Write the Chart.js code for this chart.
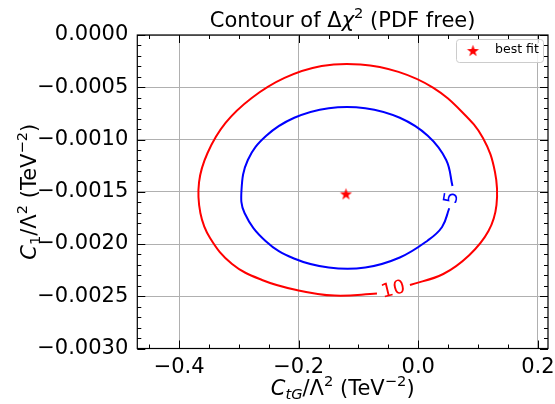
<!DOCTYPE html>
<html>
<head>
<meta charset="utf-8">
<script src="https://cdn.jsdelivr.net/npm/chart.js@4/dist/chart.umd.min.js"></script>
<style>
  html, body { margin: 0; padding: 0; background: #ffffff; }
  canvas { display: block; }
</style>
</head>
<body>
<canvas id="chart" width="555" height="404"></canvas>
<script>
// ---- data -------------------------------------------------------------
const xTicks = [-0.4, -0.2, 0.0, 0.2];
const yTicks = [0.0000, -0.0005, -0.0010, -0.0015, -0.0020, -0.0025, -0.0030];

const contourLevels = [5, 10];

// best-fit point (C_tG, C_1)
const bestFitX = [-0.121];
const bestFitY = [-0.00152];

// Δχ² = 5 contour, open where its label sits
const chi5X = [0.0572, 0.0467, 0.0159, -0.0309, -0.0886, -0.1498, -0.2074, -0.2543,
               -0.2851, -0.2957, -0.2906, -0.2555, -0.2079, -0.1498, -0.0886, -0.0309,
               0.0159, 0.0398, 0.0518];
const chi5Y = [-0.001446, -0.001196, -0.000964, -0.000792, -0.000700, -0.000700, -0.000792, -0.000964,
               -0.001196, -0.001483, -0.001703, -0.001971, -0.002139, -0.002225, -0.002225, -0.002129,
               -0.001966, -0.001837, -0.001658];

// Δχ² = 10 contour, open where its label sits
const chi10X = [-0.0139, 0.0418, 0.0856, 0.1174, 0.1308, 0.1283, 0.1082, 0.0724,
                0.0246, -0.0331, -0.0967, -0.1617, -0.2237, -0.2786, -0.3224, -0.3525,
                -0.3667, -0.3645, -0.3483, -0.3115, -0.2614, -0.2037, -0.1401, -0.0691];
const chi10Y = [-0.002392, -0.002287, -0.002105, -0.001876, -0.001627, -0.001311, -0.000986, -0.000732,
                -0.000504, -0.000353, -0.000282, -0.000297, -0.000411, -0.000603, -0.000842, -0.001129,
                -0.001407, -0.001703, -0.001943, -0.002191, -0.002344, -0.002440, -0.002494, -0.002474];

// where the level numbers sit on each contour (data coordinates)
const labelX = [0.0547, -0.0423];
const labelY = [-0.001555, -0.002431];

// ---- helpers ----------------------------------------------------------
const FONT = '"DejaVu Sans", sans-serif';
const zip = (xs, ys) => xs.map((x, i) => ({ x: x, y: ys[i] }));
const signed = (v, d) => (v < -1e-12 ? '\u2212' : '') + Math.abs(v).toFixed(d);

function makeStar(r, color) {
  const c = document.createElement('canvas');
  const size = Math.ceil(r * 2) + 2;
  c.width = size; c.height = size;
  const g = c.getContext('2d');
  g.fillStyle = color;
  g.beginPath();
  for (let k = 0; k < 10; k++) {
    const rad = k % 2 ? r * 0.4 : r;
    const a = -Math.PI / 2 + k * Math.PI / 5;
    g.lineTo(size / 2 + rad * Math.cos(a), size / 2 + 0.6 + rad * Math.sin(a));
  }
  g.closePath();
  g.fill();
  return c;
}
const starMarker = makeStar(6.3, '#ff0000');

// text made of runs: {t, s (px), i (italic), dy}
function drawRuns(ctx, runs, x, y) {
  let w = 0;
  const widths = runs.map(r => {
    ctx.font = (r.i ? 'italic ' : '') + r.s + 'px ' + FONT;
    const m = ctx.measureText(r.t).width;
    w += m;
    return m;
  });
  let cx = x - w / 2;
  runs.forEach((r, k) => {
    ctx.font = (r.i ? 'italic ' : '') + r.s + 'px ' + FONT;
    ctx.fillText(r.t, cx, y + (r.dy || 0));
    cx += widths[k];
  });
}

const FS = 21, SS = 14.7;
const titleRuns = [
  { t: 'Contour of \u0394', s: FS }, { t: '\u03c7', s: FS, i: true },
  { t: '2', s: SS, dy: -9 }, { t: ' (PDF free)', s: FS }
];
const xLabelRuns = [
  { t: 'C', s: FS, i: true }, { t: 'tG', s: SS, i: true, dy: 4 },
  { t: '/\u039b', s: FS }, { t: '2', s: SS, dy: -9 },
  { t: ' (TeV', s: FS }, { t: '\u22122', s: SS, dy: -9 }, { t: ')', s: FS }
];
const yLabelRuns = [
  { t: 'C', s: FS, i: true }, { t: '1', s: SS, dy: 4 },
  { t: '/\u039b', s: FS }, { t: '2', s: SS, dy: -9 },
  { t: ' (TeV', s: FS }, { t: '\u22122', s: SS, dy: -9 }, { t: ')', s: FS }
];

// frame, inward ticks on all sides, titles, contour labels and legend
const decorations = {
  id: 'decorations',
  afterDraw(chart) {
    const ctx = chart.ctx;
    const a = chart.chartArea;
    const sx = chart.scales.x, sy = chart.scales.y;
    ctx.save();

    // inward ticks
    ctx.strokeStyle = '#000000';
    ctx.lineWidth = 1;
    const tickX = (v, len) => {
      const p = Math.round(sx.getPixelForValue(v)) + 0.5;
      ctx.beginPath();
      ctx.moveTo(p, a.bottom); ctx.lineTo(p, a.bottom - len);
      ctx.moveTo(p, a.top); ctx.lineTo(p, a.top + len);
      ctx.stroke();
    };
    const tickY = (v, len) => {
      const p = Math.round(sy.getPixelForValue(v)) + 0.5;
      ctx.beginPath();
      ctx.moveTo(a.left, p); ctx.lineTo(a.left + len, p);
      ctx.moveTo(a.right, p); ctx.lineTo(a.right - len, p);
      ctx.stroke();
    };
    for (let k = -9; k <= 4; k++) {
      const v = k * 0.05;
      if (v < sx.min || v > sx.max) continue;
      tickX(v, Math.abs(k % 4) === 0 ? 8 : 4);
    }
    for (let k = 0; k <= 30; k++) {
      tickY(-k * 0.0001, k % 5 === 0 ? 8 : 4);
    }

    // frame
    ctx.lineWidth = 1.2;
    ctx.strokeRect(a.left, a.top, a.right - a.left, a.bottom - a.top);

    // titles
    ctx.fillStyle = '#000000';
    ctx.textBaseline = 'alphabetic';
    drawRuns(ctx, titleRuns, (a.left + a.right) / 2, 27);
    drawRuns(ctx, xLabelRuns, (a.left + a.right) / 2, 395);
    ctx.save();
    ctx.translate(36, (a.top + a.bottom) / 2);
    ctx.rotate(-Math.PI / 2);
    drawRuns(ctx, yLabelRuns, 0, 0);
    ctx.restore();

    // contour level labels
    const labelColors = ['#0000ff', '#ff0000'];
    const labelAngles = [-81, -13.6];
    contourLevels.forEach((lev, k) => {
      ctx.save();
      ctx.translate(sx.getPixelForValue(labelX[k]), sy.getPixelForValue(labelY[k]));
      ctx.rotate(labelAngles[k] * Math.PI / 180);
      ctx.fillStyle = labelColors[k];
      ctx.font = '19px ' + FONT;
      ctx.textAlign = 'center';
      ctx.textBaseline = 'middle';
      ctx.fillText(String(lev), 0, 1);
      ctx.restore();
    });

    // legend
    const ds = chart.data.datasets[0];
    const lx = a.right - 92, ly = a.top + 4, lw = 87, lh = 23;
    ctx.beginPath();
    ctx.roundRect(lx + 0.5, ly + 0.5, lw, lh, 3);
    ctx.fillStyle = 'rgba(255,255,255,0.8)';
    ctx.fill();
    ctx.strokeStyle = '#cccccc';
    ctx.lineWidth = 1;
    ctx.stroke();
    ctx.drawImage(ds.pointStyle, lx + 17 - ds.pointStyle.width / 2, ly + 11.5 - ds.pointStyle.height / 2);
    ctx.fillStyle = '#000000';
    ctx.font = '12.5px ' + FONT;
    ctx.textAlign = 'left';
    ctx.textBaseline = 'middle';
    ctx.fillText(ds.label, lx + 39, ly + 11);

    ctx.restore();
  }
};

const tickFont = { family: FONT, size: FS };
const noOverflow = s => { s.paddingLeft = 0; s.paddingRight = 0; s.paddingTop = 0; s.paddingBottom = 0; };

new Chart(document.getElementById('chart'), {
  type: 'scatter',
  data: {
    datasets: [
      {
        label: 'best fit',
        data: zip(bestFitX, bestFitY),
        pointStyle: starMarker,
        pointRadius: 6,
        showLine: false
      },
      {
        label: '\u0394\u03c7\u00b2 = ' + contourLevels[0],
        data: zip(chi5X, chi5Y),
        showLine: true,
        borderColor: '#0000ff',
        borderWidth: 2,
        pointRadius: 0,
        tension: 0.4,
        fill: false
      },
      {
        label: '\u0394\u03c7\u00b2 = ' + contourLevels[1],
        data: zip(chi10X, chi10Y),
        showLine: true,
        borderColor: '#ff0000',
        borderWidth: 2,
        pointRadius: 0,
        tension: 0.4,
        fill: false
      }
    ]
  },
  options: {
    responsive: false,
    animation: false,
    devicePixelRatio: 1,
    layout: { padding: { left: 0, right: 7, top: 35, bottom: 0 } },
    plugins: {
      legend: { display: false },
      tooltip: { enabled: false },
      title: { display: false }
    },
    scales: {
      x: {
        type: 'linear',
        min: -0.47,
        max: 0.217,
        afterBuildTicks: s => { s.ticks = xTicks.map(v => ({ value: v })); },
        afterFit: s => { s.height = 55.5; noOverflow(s); },
        grid: { color: '#b0b0b0', lineWidth: 1, drawTicks: false, tickLength: 0 },
        border: { display: false },
        ticks: {
          font: tickFont, color: '#000000', padding: 6,
          autoSkip: false, maxRotation: 0,
          callback: v => signed(v, 1)
        }
      },
      y: {
        type: 'linear',
        min: -0.003,
        max: 0,
        afterBuildTicks: s => { s.ticks = yTicks.map(v => ({ value: v })); },
        afterFit: s => { s.width = 137.3; noOverflow(s); },
        grid: { color: '#b0b0b0', lineWidth: 1, drawTicks: false, tickLength: 0 },
        border: { display: false },
        ticks: {
          font: tickFont, color: '#000000', padding: 9,
          autoSkip: false,
          callback: v => signed(v, 4)
        }
      }
    }
  },
  plugins: [decorations]
});
</script>
</body>
</html>
